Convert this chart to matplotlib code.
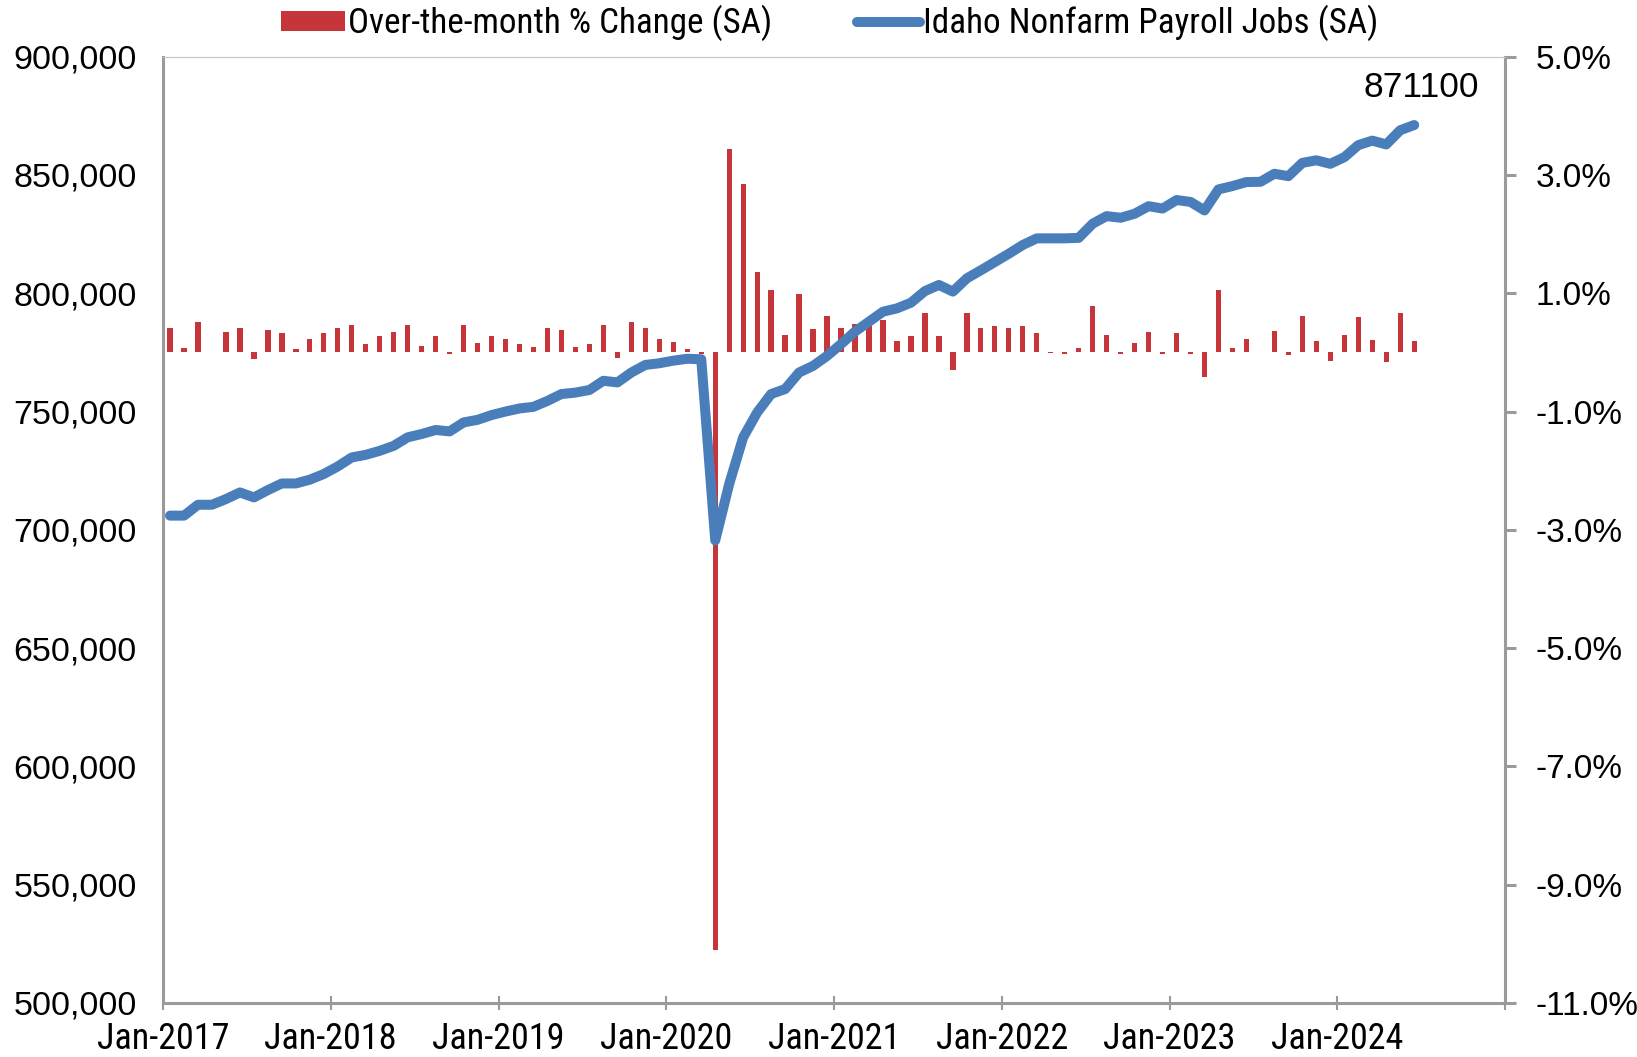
import matplotlib
matplotlib.use("Agg")
import matplotlib.pyplot as plt
from matplotlib.lines import Line2D
from matplotlib.patches import Patch
from matplotlib.ticker import FuncFormatter
from matplotlib import font_manager
import numpy as np

# Idaho nonfarm payroll jobs (SA), thousands, Jan-2017 .. Jun-2024
jobs = [
    706.0, 706.0, 710.6, 710.6, 713.0, 715.8, 713.7, 716.8, 719.6, 719.6, 721.2, 723.6,
    726.8, 730.6, 731.7, 733.4, 735.5, 739.1, 740.5, 742.2, 741.6, 745.4, 746.5, 748.5,
    750.0, 751.3, 752.0, 754.5, 757.4, 758.0, 759.1, 763.0, 762.3, 766.5, 769.7, 770.4,
    771.5, 772.3, 772.1, 695.5, 719.4, 739.1, 749.6, 757.4, 759.5, 766.5, 769.3, 773.5,
    778.5, 783.8, 788.0, 792.2, 793.6, 796.0, 800.9, 803.5, 800.7, 806.3, 809.7, 813.2,
    816.7, 820.4, 823.2, 823.2, 823.2, 823.4, 829.4, 832.6, 831.9, 833.6, 836.8, 835.8,
    839.4, 838.6, 835.0, 843.9, 845.3, 847.0, 847.1, 850.5, 849.5, 855.1, 856.2, 854.7,
    857.5, 862.6, 864.5, 862.9, 868.9, 871.1,
]

# over-the-month % change (SA)
pct_change = [
    0.42, 0.07, 0.52, 0.01, 0.35, 0.42, -0.11, 0.38, 0.33, 0.06, 0.23, 0.33,
    0.42, 0.47, 0.14, 0.28, 0.35, 0.47, 0.11, 0.28, -0.02, 0.47, 0.16, 0.28,
    0.23, 0.14, 0.09, 0.42, 0.38, 0.09, 0.14, 0.47, -0.10, 0.52, 0.42, 0.22,
    0.18, 0.06, -0.03, -10.1, 3.44, 2.85, 1.36, 1.05, 0.30, 0.98, 0.39, 0.62,
    0.42, 0.48, 0.45, 0.55, 0.20, 0.27, 0.67, 0.27, -0.29, 0.67, 0.42, 0.44,
    0.42, 0.44, 0.32, -0.01, -0.02, 0.08, 0.79, 0.30, -0.02, 0.16, 0.35, -0.02,
    0.33, -0.02, -0.41, 1.05, 0.08, 0.23, 0.01, 0.37, -0.04, 0.61, 0.19, -0.14,
    0.30, 0.59, 0.21, -0.17, 0.67, 0.19,
]

year_labels = ["Jan-2017", "Jan-2018", "Jan-2019", "Jan-2020",
               "Jan-2021", "Jan-2022", "Jan-2023", "Jan-2024"]

BLUE = "#4A7EBB"
RED = "#C6353A"
GRAY = "#9A9A9A"
NUM_FONT = ["Liberation Sans", "DejaVu Sans"]

# condensed face for axis dates and legend, if one is installed
installed = {f.name for f in font_manager.fontManager.ttflist}
narrow = next((n for n in ["Liberation Sans Narrow", "Roboto Condensed"] if n in installed), None)
if narrow:
    NARROW_FONT, XSIZE, LSIZE = [narrow, "DejaVu Sans"], 26, 25.3
else:
    NARROW_FONT, XSIZE, LSIZE = NUM_FONT, 23.2, 22

x = np.arange(len(jobs)) + 0.5
jobs_abs = np.array(jobs) * 1000

fig = plt.figure(figsize=(16.37, 10.57), dpi=100)
ax1 = fig.add_axes([0.0996, 0.0511, 0.8198, 0.8953])
ax2 = ax1.twinx()

# bars on the right-hand scale
ax2.bar(x, pct_change, width=0.38, color=RED, zorder=2)
ax2.set_ylim(-11, 5)
ax2.set_yticks(np.arange(-11, 5.1, 2))
ax2.yaxis.set_major_formatter(FuncFormatter(lambda v, p: f"{v:.1f}%"))

# line on the left-hand scale, drawn above the bars
ax1.set_zorder(ax2.get_zorder() + 1)
ax1.patch.set_visible(False)
ax1.plot(x, jobs_abs, color=BLUE, linewidth=7.2,
         solid_joinstyle="round", solid_capstyle="round")
ax1.set_ylim(500000, 900000)
ax1.set_yticks(np.arange(500000, 900001, 50000))
ax1.yaxis.set_major_formatter(FuncFormatter(lambda v, p: f"{v:,.0f}"))
ax1.set_xlim(0, 96)
ax1.set_xticks(np.arange(0, 97, 12))
ax1.set_xticklabels(year_labels + [""])

ax1.annotate(f"{jobs_abs[-1]:.0f}", xy=(x[-1], jobs_abs[-1]),
             xytext=(5, 27), textcoords="offset points",
             ha="center", va="center", fontsize=25.5, family=NUM_FONT)

# spines and ticks
for ax in (ax1, ax2):
    for s in ax.spines.values():
        s.set_visible(False)
ax1.spines["left"].set_visible(True)
ax1.spines["left"].set_color(GRAY)
ax1.spines["left"].set_linewidth(2.2)
ax1.spines["bottom"].set_visible(True)
ax1.spines["bottom"].set_color(GRAY)
ax1.spines["bottom"].set_linewidth(2.2)
ax1.spines["top"].set_visible(True)
ax1.spines["top"].set_color("#C8C8C8")
ax1.spines["top"].set_linewidth(0.9)
ax2.spines["right"].set_visible(True)
ax2.spines["right"].set_color(GRAY)
ax2.spines["right"].set_linewidth(2.2)

ax1.tick_params(axis="y", length=0, pad=19, labelsize=24.5)
ax1.tick_params(axis="x", direction="inout", length=10, width=1.5,
                color=GRAY, pad=8, labelsize=XSIZE)
ax2.tick_params(axis="y", direction="out", length=8, width=2.2,
                color=GRAY, pad=14, labelsize=24)
for lab in ax1.get_yticklabels() + ax2.get_yticklabels():
    lab.set_family(NUM_FONT)
for lab in ax1.get_xticklabels():
    lab.set_family(NARROW_FONT)

handles = [Patch(facecolor=RED, edgecolor="none"),
           Line2D([], [], color=BLUE, linewidth=7.2, solid_capstyle="round")]
fig.legend(handles, ["Over-the-month % Change (SA)", "Idaho Nonfarm Payroll Jobs (SA)"],
           loc="center", bbox_to_anchor=(0.507, 0.978), ncol=2, frameon=False,
           handlelength=1.8, handleheight=0.5, handletextpad=0.1, columnspacing=2.4,
           prop={"family": NARROW_FONT, "size": LSIZE})

fig.savefig("out.png", dpi=100)
